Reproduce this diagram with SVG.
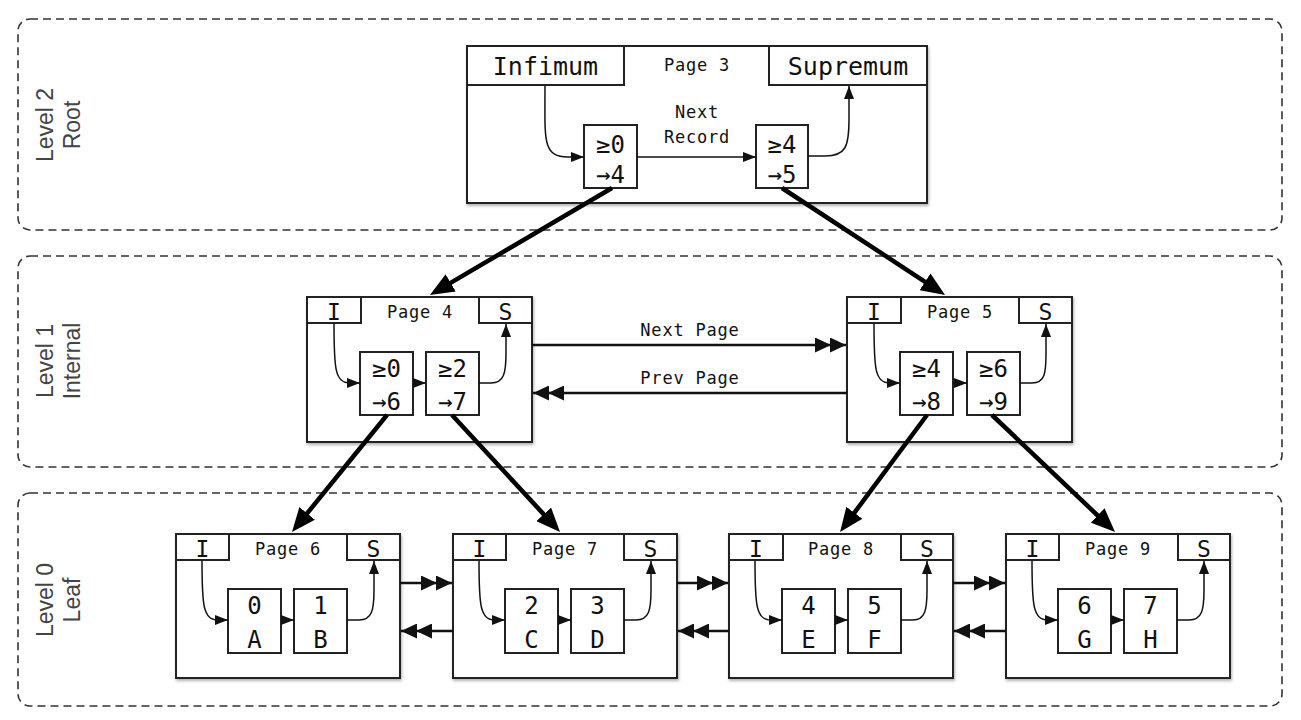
<svg xmlns="http://www.w3.org/2000/svg" width="1301" height="720" viewBox="0 0 1301 720">
<defs>
<style>
.panel{fill:none;stroke:#333;stroke-width:1.6;stroke-dasharray:8 5}
.lvl{font-family:"Liberation Sans",Arial,sans-serif;font-size:23px;fill:#444;text-anchor:middle}
.box{fill:#fff;stroke:#222;stroke-width:2}
.page{fill:#fff;stroke:#222;stroke-width:2;filter:url(#sh)}
.mono{font-family:"DejaVu Sans Mono",monospace;fill:#111;text-anchor:middle}
.pt{font-size:17px;letter-spacing:0.8px}
.is{font-size:23px}
.big{font-size:25px}
.rec{font-size:24px}
.thin{fill:none;stroke:#111;stroke-width:1.5;marker-end:url(#ah)}
.thick{fill:none;stroke:#000;stroke-width:4.5;marker-end:url(#bh)}
.dbl{fill:none;stroke:#111;stroke-width:2.5;marker-end:url(#dh)}
</style>
<filter id="sh" x="-5%" y="-5%" width="115%" height="115%">
<feDropShadow dx="1" dy="2" stdDeviation="1.5" flood-color="#000" flood-opacity="0.3"/>
</filter>
<marker id="ah" viewBox="0 0 13 10" refX="13" refY="5" markerWidth="13" markerHeight="10" markerUnits="userSpaceOnUse" orient="auto">
<path d="M0,0 L13,5 L0,10 z" fill="#111"/>
</marker>
<marker id="bh" viewBox="0 0 24 20" refX="11" refY="10" markerWidth="24" markerHeight="20" markerUnits="userSpaceOnUse" orient="auto">
<path d="M0,0 L24,10 L0,20 z" fill="#000"/>
</marker>
<marker id="dh" viewBox="0 0 31 15" refX="31" refY="7.5" markerWidth="31" markerHeight="15" markerUnits="userSpaceOnUse" orient="auto">
<path d="M0,0 L16,7.5 L0,15 z M15,0 L31,7.5 L15,15 z" fill="#111"/>
</marker>
</defs>
<rect width="1301" height="720" fill="#fff"/>

<g id="levels">
<rect class="panel" x="18" y="19" width="1264" height="211" rx="12"/>
<rect class="panel" x="18" y="256" width="1264" height="211" rx="12"/>
<rect class="panel" x="18" y="493" width="1264" height="213" rx="12"/>
<text class="lvl" transform="rotate(-90)" x="-125" y="53">Level 2</text>
<text class="lvl" transform="rotate(-90)" x="-125" y="80">Root</text>
<text class="lvl" transform="rotate(-90)" x="-361" y="53">Level 1</text>
<text class="lvl" transform="rotate(-90)" x="-361" y="80">Internal</text>
<text class="lvl" transform="rotate(-90)" x="-600" y="53">Level 0</text>
<text class="lvl" transform="rotate(-90)" x="-600" y="80">Leaf</text>
</g>

<g id="page3">
<rect class="page" x="467" y="46" width="460" height="157"/>
<rect class="box" x="467" y="46" width="157" height="39"/>
<rect class="box" x="769" y="46" width="158" height="39"/>
<text class="mono big" x="545.5" y="75">Infimum</text>
<text class="mono big" x="848" y="75">Supremum</text>
<text class="mono pt" x="697" y="71">Page 3</text>
<text class="mono pt" x="697" y="118">Next</text>
<text class="mono pt" x="697" y="143">Record</text>
<rect class="box" x="584" y="125" width="53" height="63"/>
<rect class="box" x="756" y="125" width="52" height="63"/>
<text class="mono rec" x="610.5" y="153">≥0</text>
<text class="mono rec" x="610.5" y="183">→4</text>
<text class="mono rec" x="782" y="153">≥4</text>
<text class="mono rec" x="782" y="183">→5</text>
<path class="thin" d="M545,86 C545,140 542,157 568,157 L584,157"/>
<path class="thin" d="M637,157 L756,157"/>
<path class="thin" d="M808,156 L825,156 C846,156 849,146 849,120 L849,86"/>
</g>

<g id="page4" transform="translate(307,297)">
<rect class="page" x="0" y="0" width="225" height="145"/>
<rect class="box" x="0" y="0" width="54" height="26"/>
<rect class="box" x="172" y="0" width="53" height="26"/>
<text class="mono is" x="27" y="23">I</text>
<text class="mono is" x="198.5" y="23">S</text>
<text class="mono pt" x="113" y="21">Page 4</text>
<rect class="box" x="53" y="55" width="53" height="63"/>
<rect class="box" x="119" y="55" width="53" height="63"/>
<text class="mono rec" x="79.5" y="80">≥0</text>
<text class="mono rec" x="79.5" y="113">→6</text>
<text class="mono rec" x="145.5" y="80">≥2</text>
<text class="mono rec" x="145.5" y="113">→7</text>
<path class="thin" d="M27,27 C27,72 28,86 43,86 L53,86"/>
<path class="thin" d="M106,86 L119,86"/>
<path class="thin" d="M172,86 L184,86 C197,86 199,76 199,56 L199,27"/>
</g>

<g id="page5" transform="translate(847,297)">
<rect class="page" x="0" y="0" width="225" height="145"/>
<rect class="box" x="0" y="0" width="54" height="26"/>
<rect class="box" x="172" y="0" width="53" height="26"/>
<text class="mono is" x="27" y="23">I</text>
<text class="mono is" x="198.5" y="23">S</text>
<text class="mono pt" x="113" y="21">Page 5</text>
<rect class="box" x="53" y="55" width="53" height="63"/>
<rect class="box" x="120" y="55" width="53" height="63"/>
<text class="mono rec" x="79.5" y="80">≥4</text>
<text class="mono rec" x="79.5" y="113">→8</text>
<text class="mono rec" x="146.5" y="80">≥6</text>
<text class="mono rec" x="146.5" y="113">→9</text>
<path class="thin" d="M27,27 C27,72 28,86 43,86 L53,86"/>
<path class="thin" d="M106,86 L120,86"/>
<path class="thin" d="M173,86 L185,86 C198,86 199,76 199,56 L199,27"/>
</g>

<g id="page6" transform="translate(176,534)">
<rect class="page" x="0" y="0" width="224" height="144"/>
<rect class="box" x="0" y="0" width="53" height="26"/>
<rect class="box" x="171" y="0" width="53" height="26"/>
<text class="mono is" x="26.5" y="23">I</text>
<text class="mono is" x="197.5" y="23">S</text>
<text class="mono pt" x="112" y="21">Page 6</text>
<rect class="box" x="52" y="55" width="53" height="64"/>
<rect class="box" x="118" y="55" width="53" height="64"/>
<text class="mono rec" x="78.5" y="80">0</text>
<text class="mono rec" x="78.5" y="114">A</text>
<text class="mono rec" x="144.5" y="80">1</text>
<text class="mono rec" x="144.5" y="114">B</text>
<path class="thin" d="M26,27 C26,71 27,86 42,86 L52,86"/>
<path class="thin" d="M105,86 L118,86"/>
<path class="thin" d="M171,86 L183,86 C196,86 198,76 198,56 L198,27"/>
</g>

<g id="page7" transform="translate(453,534)">
<rect class="page" x="0" y="0" width="224" height="144"/>
<rect class="box" x="0" y="0" width="53" height="26"/>
<rect class="box" x="171" y="0" width="53" height="26"/>
<text class="mono is" x="26.5" y="23">I</text>
<text class="mono is" x="197.5" y="23">S</text>
<text class="mono pt" x="112" y="21">Page 7</text>
<rect class="box" x="52" y="55" width="53" height="64"/>
<rect class="box" x="118" y="55" width="53" height="64"/>
<text class="mono rec" x="78.5" y="80">2</text>
<text class="mono rec" x="78.5" y="114">C</text>
<text class="mono rec" x="144.5" y="80">3</text>
<text class="mono rec" x="144.5" y="114">D</text>
<path class="thin" d="M26,27 C26,71 27,86 42,86 L52,86"/>
<path class="thin" d="M105,86 L118,86"/>
<path class="thin" d="M171,86 L183,86 C196,86 198,76 198,56 L198,27"/>
</g>

<g id="page8" transform="translate(729,534)">
<rect class="page" x="0" y="0" width="224" height="144"/>
<rect class="box" x="0" y="0" width="54" height="26"/>
<rect class="box" x="172" y="0" width="52" height="26"/>
<text class="mono is" x="27" y="23">I</text>
<text class="mono is" x="198" y="23">S</text>
<text class="mono pt" x="112" y="21">Page 8</text>
<rect class="box" x="53" y="55" width="53" height="64"/>
<rect class="box" x="119" y="55" width="53" height="64"/>
<text class="mono rec" x="79.5" y="80">4</text>
<text class="mono rec" x="79.5" y="114">E</text>
<text class="mono rec" x="145.5" y="80">5</text>
<text class="mono rec" x="145.5" y="114">F</text>
<path class="thin" d="M26,27 C26,71 27,86 42,86 L53,86"/>
<path class="thin" d="M106,86 L119,86"/>
<path class="thin" d="M172,86 L184,86 C196,86 198,76 198,56 L198,27"/>
</g>

<g id="page9" transform="translate(1006,534)">
<rect class="page" x="0" y="0" width="224" height="144"/>
<rect class="box" x="0" y="0" width="53" height="26"/>
<rect class="box" x="172" y="0" width="52" height="26"/>
<text class="mono is" x="26.5" y="23">I</text>
<text class="mono is" x="198" y="23">S</text>
<text class="mono pt" x="112" y="21">Page 9</text>
<rect class="box" x="52" y="55" width="53" height="64"/>
<rect class="box" x="118" y="55" width="53" height="64"/>
<text class="mono rec" x="78.5" y="80">6</text>
<text class="mono rec" x="78.5" y="114">G</text>
<text class="mono rec" x="144.5" y="80">7</text>
<text class="mono rec" x="144.5" y="114">H</text>
<path class="thin" d="M26,27 C26,71 27,86 42,86 L52,86"/>
<path class="thin" d="M105,86 L118,86"/>
<path class="thin" d="M171,86 L183,86 C196,86 198,76 198,56 L198,27"/>
</g>

<g id="connectors">
<path class="thick" d="M612,188 L441.2,288.4"/>
<path class="thick" d="M782,188 L934.2,287.8"/>
<path class="thick" d="M387,415 L300.2,521.9"/>
<path class="thick" d="M452,415 L551.2,522.4"/>
<path class="thick" d="M927,415 L847.8,521.6"/>
<path class="thick" d="M992,415 L1105.6,523.0"/>
<path class="dbl" d="M532,345 L846,345"/>
<path class="dbl" d="M847,393 L533,393"/>
<text class="mono pt" x="690" y="336">Next Page</text>
<text class="mono pt" x="690" y="384">Prev Page</text>
<path class="dbl" d="M400,583 L452,583"/>
<path class="dbl" d="M453,631 L401,631"/>
<path class="dbl" d="M677,583 L728,583"/>
<path class="dbl" d="M729,631 L678,631"/>
<path class="dbl" d="M953,583 L1005,583"/>
<path class="dbl" d="M1006,631 L954,631"/>
</g>
</svg>
